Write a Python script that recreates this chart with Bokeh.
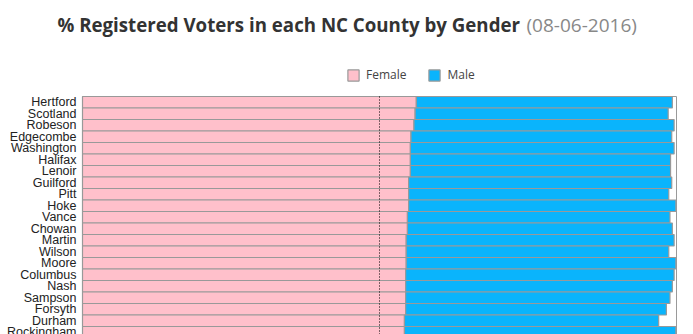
from bokeh.plotting import figure
from bokeh.models import Range1d, Label, Legend, LegendItem, ColumnDataSource
from bokeh.core.properties import value
from bokeh.embed import file_html
from bokeh.resources import INLINE

# ---- data ----
counties = ["Hertford", "Scotland", "Robeson", "Edgecombe", "Washington", "Halifax",
            "Lenoir", "Guilford", "Pitt", "Hoke", "Vance", "Chowan", "Martin",
            "Wilson", "Moore", "Columbus", "Nash", "Sampson", "Forsyth", "Durham",
            "Rockingham"]
female_pct = [56.2, 56.0, 55.8, 55.3, 55.2, 55.2, 55.2, 54.9, 54.9, 54.9, 54.7,
              54.7, 54.5, 54.5, 54.5, 54.4, 54.4, 54.4, 54.4, 54.2, 54.2]
male_pct = [43.1, 42.6, 43.8, 43.9, 44.4, 43.8, 43.8, 44.3, 43.8, 45.0, 44.2,
            44.6, 45.1, 44.2, 45.4, 45.2, 44.9, 44.5, 43.9, 42.8, 45.7]
title_main = "% Registered Voters in each NC County by Gender"
title_date = "(08-06-2016)"
series_names = ["Female", "Male"]

pos = list(range(len(counties)))
male_right = [f + m for f, m in zip(female_pct, male_pct)]
src = ColumnDataSource(dict(y=pos, f=female_pct, mr=male_right,
                            zero=[0] * len(pos), name=counties))

W, H = 693, 334
AREA_LEFT, AREA_RIGHT, AREA_TOP = 82, 676, 96   # pixel edges of the bar area
px_per_pct = (AREA_RIGHT - AREA_LEFT) / 100.0
row_px = 11.5

x_lo = -AREA_LEFT / px_per_pct
x_hi = (W - AREA_LEFT) / px_per_pct
y_top = -0.5 - AREA_TOP / row_px
y_bot = -0.5 + (H - AREA_TOP) / row_px

p = figure(width=W, height=H, output_backend="svg", toolbar_location=None,
           x_range=Range1d(x_lo, x_hi), y_range=Range1d(y_bot, y_top),
           min_border=0, background_fill_color="white",
           border_fill_color="white")
p.outline_line_color = None
p.grid.visible = False
p.axis.visible = False

pink = "#FFC0CB"
blue = "#0AB4FC"
edge = "#999999"

# bar area frame
p.quad(left=[0], right=[100], top=[-0.5], bottom=[y_bot + 1],
       fill_color=None, line_color="#9a9a9a", line_width=1)

r_f = p.hbar(y="y", left="zero", right="f", height=1.0, source=src,
             fill_color=pink, line_color=edge, line_width=1.2)
r_m = p.hbar(y="y", left="f", right="mr", height=1.0, source=src,
             fill_color=blue, line_color=edge, line_width=1.2)

# 50% reference line
p.segment(x0=[50], y0=[-0.5], x1=[50], y1=[y_bot + 1], line_color="black",
          line_dash="1 2", line_width=1)

# county labels
p.text(x="zero", y="y", text="name", source=src, x_offset=-6,
       text_align="right", text_baseline="middle",
       text_font=value("Liberation Sans"), text_font_size="12.5px",
       text_color="#222222")

# title in two styles (screen units from bottom-left of canvas)
t1 = Label(x=57, y=H - 24, x_units="screen", y_units="screen",
           text=title_main, text_font="Open Sans", text_font_style="bold",
           text_font_size="18.7px", text_color="#333333",
           text_baseline="middle", text_align="left")
t2 = Label(x=526, y=H - 24, x_units="screen", y_units="screen",
           text=title_date, text_font="Open Sans", text_font_style="normal",
           text_font_size="19px", text_color="#888888",
           text_baseline="middle", text_align="left")
p.add_layout(t1)
p.add_layout(t2)

legend = Legend(items=[LegendItem(label=series_names[0], renderers=[r_f]),
                       LegendItem(label=series_names[1], renderers=[r_m])],
                location=(346, H - 83), orientation="horizontal",
                glyph_width=14, glyph_height=14, label_standoff=6, spacing=21,
                padding=0, margin=0, border_line_color=None,
                background_fill_alpha=0,
                label_text_font="Open Sans", label_text_font_size="12px",
                label_text_color="#444444")
p.add_layout(legend, "center")

open("out.html", "w").write(file_html(p, INLINE))
